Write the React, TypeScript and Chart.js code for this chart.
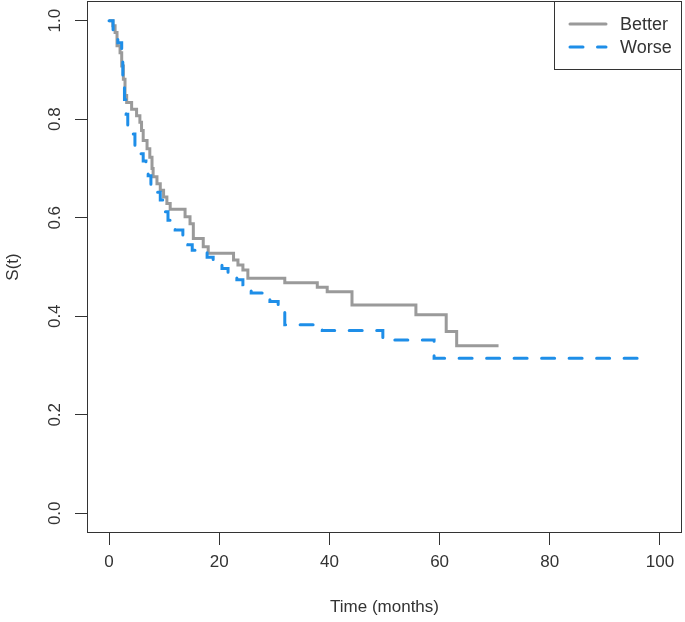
import React, { useEffect, useRef } from 'react';
import { Chart, registerables } from 'chart.js';

Chart.register(...registerables);

const betterTime = [0, 0.7, 1.1, 1.45, 2.0, 2.3, 2.6, 2.9, 3.2, 4.1, 5.0, 5.6, 5.9, 6.2, 6.9, 7.4, 7.8, 8.0, 8.7, 9.3, 9.9, 10.5, 11.1, 13.8, 14.7, 15.3, 17.1, 18.0, 22.6, 23.4, 24.3, 25.2, 31.9, 37.8, 39.6, 44.1, 55.7, 61.2, 63.1, 70.7];
const betterSurv = [1.0, 0.99, 0.976, 0.949, 0.935, 0.908, 0.881, 0.848, 0.834, 0.82, 0.807, 0.794, 0.777, 0.757, 0.74, 0.723, 0.70, 0.683, 0.669, 0.656, 0.642, 0.629, 0.617, 0.602, 0.588, 0.558, 0.541, 0.528, 0.514, 0.504, 0.494, 0.477, 0.468, 0.459, 0.450, 0.423, 0.403, 0.369, 0.340, 0.340];

const worseTime = [0, 0.73, 1.6, 2.3, 2.5, 2.8, 3.1, 3.4, 4.2, 4.7, 5.6, 6.2, 6.7, 7.1, 7.6, 8.5, 9.3, 10.2, 10.7, 11.1, 12.0, 13.4, 14.3, 15.1, 17.8, 18.9, 20.5, 21.6, 23.2, 24.3, 25.8, 27.8, 29.2, 30.7, 31.9, 38.7, 49.7, 59.0, 96.4];
const worseSurv = [1.0, 0.98, 0.955, 0.92, 0.88, 0.84, 0.81, 0.785, 0.77, 0.745, 0.73, 0.715, 0.70, 0.685, 0.667, 0.652, 0.636, 0.612, 0.595, 0.582, 0.575, 0.558, 0.545, 0.534, 0.52, 0.507, 0.497, 0.487, 0.474, 0.464, 0.447, 0.44, 0.43, 0.416, 0.383, 0.371, 0.352, 0.315, 0.315];

const xTicks = [0, 20, 40, 60, 80, 100];
const yTicks = [0, 0.2, 0.4, 0.6, 0.8, 1.0];
const seriesNames = ['Better', 'Worse'];
const xTitle = 'Time (months)';
const yTitle = 'S(t)';

const FONT = 'Arial, "Liberation Sans", sans-serif';
const GRAY = '#9a9a9a';
const BLUE = '#1e8ee8';
const INK = '#333333';
const DASH = [13, 14.5];

const rPlot = {
  id: 'rPlot',
  afterDraw(chart: any) {
    const { ctx, chartArea: a, scales } = chart;
    ctx.save();
    ctx.strokeStyle = INK;
    ctx.lineWidth = 1;
    ctx.setLineDash([]);
    ctx.strokeRect(Math.round(a.left) + 0.5, Math.round(a.top) + 0.5, Math.round(a.right - a.left) - 1, Math.round(a.bottom - a.top) - 1);

    ctx.fillStyle = INK;
    ctx.font = '17px ' + FONT;
    ctx.textAlign = 'center';
    ctx.textBaseline = 'middle';
    yTicks.forEach((v) => {
      const y = scales.y.getPixelForValue(v);
      ctx.save();
      ctx.translate(55, y);
      ctx.rotate(-Math.PI / 2);
      ctx.fillText(v.toFixed(1), 0, 0);
      ctx.restore();
    });

    ctx.fillText(xTitle, (a.left + a.right) / 2, 607);
    ctx.save();
    ctx.translate(13, (a.top + a.bottom) / 2);
    ctx.rotate(-Math.PI / 2);
    ctx.fillText(yTitle, 0, 0);
    ctx.restore();

    // legend
    const lx = 554;
    const ly = Math.round(a.top);
    const lr = Math.round(a.right);
    ctx.strokeStyle = INK;
    ctx.lineWidth = 1;
    ctx.strokeRect(lx + 0.5, ly + 0.5, lr - lx - 1, 68);

    ctx.lineWidth = 3;
    ctx.lineCap = 'round';
    ctx.strokeStyle = GRAY;
    ctx.beginPath();
    ctx.moveTo(570, 24);
    ctx.lineTo(606, 24);
    ctx.stroke();
    ctx.strokeStyle = BLUE;
    ctx.setLineDash(DASH);
    ctx.beginPath();
    ctx.moveTo(570, 47);
    ctx.lineTo(606, 47);
    ctx.stroke();
    ctx.setLineDash([]);

    ctx.fillStyle = INK;
    ctx.font = '18px ' + FONT;
    ctx.textAlign = 'left';
    ctx.fillText(seriesNames[0], 620, 25);
    ctx.fillText(seriesNames[1], 620, 48);
    ctx.restore();
  },
};

export default function App() {
  const ref = useRef<HTMLCanvasElement | null>(null);
  useEffect(() => {
    if (!ref.current) return;
    const chart = new Chart(ref.current, {
      type: 'line',
      data: {
        datasets: [
          {
            label: seriesNames[0],
            data: betterTime.map((t, i) => ({ x: t, y: betterSurv[i] })),
            borderColor: GRAY,
            borderWidth: 3,
            stepped: 'before',
            pointRadius: 0,
            fill: false,
            order: 1,
          },
          {
            label: seriesNames[1],
            data: worseTime.map((t, i) => ({ x: t, y: worseSurv[i] })),
            borderColor: BLUE,
            borderWidth: 3,
            borderDash: DASH,
            borderCapStyle: 'round',
            stepped: 'before',
            pointRadius: 0,
            fill: false,
            order: 0,
          },
        ],
      },
      options: {
        animation: false,
        responsive: false,
        devicePixelRatio: 1,
        layout: { padding: { left: 0, top: 1, right: 3, bottom: 0 } },
        plugins: { legend: { display: false }, tooltip: { enabled: false } },
        scales: {
          x: {
            type: 'linear',
            min: -4,
            max: 104,
            afterBuildTicks: (s: any) => { s.ticks = xTicks.map((v) => ({ value: v })); },
            afterFit: (s: any) => { s.height = 89; },
            grid: { display: true, drawOnChartArea: false, drawTicks: true, tickLength: 12, color: INK, lineWidth: 1 },
            border: { display: false },
            ticks: { color: INK, font: { family: FONT, size: 17 }, padding: 7, maxRotation: 0, autoSkip: false, callback: (v: any) => String(v) },
          },
          y: {
            type: 'linear',
            min: -0.04,
            max: 1.04,
            afterBuildTicks: (s: any) => { s.ticks = yTicks.map((v) => ({ value: v })); },
            afterFit: (s: any) => { s.width = 87; },
            grid: { display: true, drawOnChartArea: false, drawTicks: true, tickLength: 12, color: INK, lineWidth: 1 },
            border: { display: false },
            ticks: { display: false },
          },
        },
      },
      plugins: [rPlot],
    });
    return () => chart.destroy();
  }, []);
  return (
    <div style={{ position: 'absolute', left: 0, top: 0, width: 685, height: 622, background: '#fff' }}>
      <canvas ref={ref} width={685} height={622} />
    </div>
  );
}
